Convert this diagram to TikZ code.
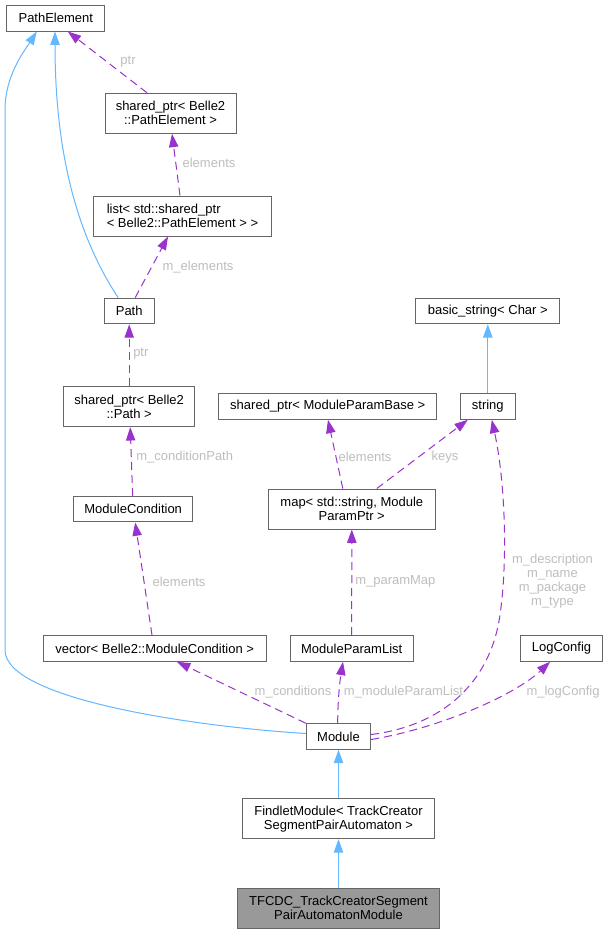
\documentclass[tikz,border=0pt]{standalone}
\usepackage{fontspec}
\setmainfont{Liberation Sans}
\usetikzlibrary{arrows.meta,calc}
\definecolor{boxborder}{HTML}{666666}
\definecolor{inhblue}{HTML}{63B8FF}
\definecolor{usepurple}{HTML}{9A32CD}
\definecolor{lblgray}{HTML}{BEBEBE}
\definecolor{hlfill}{HTML}{999999}
\begin{document}
\begin{tikzpicture}[x=0.75pt,y=-0.75pt,
  box/.style={draw=boxborder, fill=white, line width=0.75pt, inner sep=0pt, align=center,
    font=\fontsize{9.75}{10.5}\selectfont},
  sz/.style 2 args={minimum width=#1*0.75pt, minimum height=#2*0.75pt},
  inh/.style={draw=inhblue, line width=0.75pt, -{Triangle[length=10pt,width=7pt,fill=inhblue]}},
  use/.style={draw=usepurple, line width=0.75pt, dash pattern=on 6pt off 3.75pt,
    -{Triangle[length=10pt,width=7pt,fill=usepurple]}},
  lbl/.style={text=lblgray, inner sep=0pt, align=center, font=\fontsize{9.75}{10.5}\selectfont}
]
\fill[white] (0,0) rectangle (607,933);
\useasboundingbox (0,0) rectangle (607,933);

% nodes
\node[box, sz={98.3}{26}] (pe) at (55.8,18) {PathElement};
\node[box, sz={131}{40}] (sppe) at (170.5,113.3) {shared\_ptr< Belle2\\::PathElement >};
\node[box, sz={177.6}{40}, align=left] (lst) at (182.5,216) {list< std::shared\_ptr\\< Belle2::PathElement > >};
\node[box, sz={49.7}{25.7}] (path) at (129.2,311) {Path};
\node[box, sz={131}{40}] (spp) at (129.2,406.7) {shared\_ptr< Belle2\\::Path >};
\node[box, sz={217.7}{25.6}] (spmpb) at (327.8,406.5) {shared\_ptr< ModuleParamBase >};
\node[box, sz={55}{25.6}] (str) at (487.8,406.5) {string};
\node[box, sz={144.3}{25}] (bstr) at (487.8,311.2) {basic\_string< Char >};
\node[box, sz={119}{25.3}] (mc) at (133.2,509.3) {ModuleCondition};
\node[box, sz={167}{40}] (map) at (351.8,509) {map< std::string, Module\\ParamPtr >};
\node[box, sz={223.3}{25.6}] (vec) at (154.7,648.5) {vector< Belle2::ModuleCondition >};
\node[box, sz={123.2}{25.6}] (mpl) at (351.7,648.5) {ModuleParamList};
\node[box, sz={82.4}{25.6}] (log) at (561.5,648.5) {LogConfig};
\node[box, sz={64.4}{25.6}] (mod) at (338.5,736.5) {Module};
\node[box, sz={191.6}{40}] (fm) at (338.5,818.7) {FindletModule< TrackCreator\\SegmentPairAutomaton >};
\node[box, sz={202.4}{40}, fill=hlfill] (tf) at (338.5,908.3) {TFCDC\_TrackCreatorSegment\\PairAutomatonModule};

% inheritance edges
\draw[inh] ($(path.north)+(-11,0)$) .. controls (80,240) and (55,160) .. ($(pe.south)+(-0.8,0)$);
\draw[inh] ($(mod.west)+(0,-3)$) .. controls (200,727) and (5,700) .. (5,650)
   -- (5,110) .. controls (5,75) and (25,50) .. ($(pe.south)+(-19,0)$);
\draw[inh] (str.north) -- (bstr.south);
\draw[inh] (fm.north) -- (mod.south);
\draw[inh] (tf.north) -- (fm.south);

% usage edges
\draw[use] ($(sppe.north)+(-23.5,0)$) -- ($(pe.south)+(12,0)$);
\node[lbl] (l1) at (128,62) {ptr};
\draw[use] ($(lst.north)+(-2.5,0)$) -- ($(sppe.south)+(1.5,0)$);
\node[lbl] (l2) at (209,163) {elements};
\draw[use] ($(path.north)+(6,0)$) -- ($(lst.south)+(-14.5,0)$);
\node[lbl] (l3) at (198,267) {m\_elements};
\draw[use] (spp.north) -- (path.south);
\node[lbl, anchor=west] (l4) at (133,354) {ptr};
\draw[use] ($(mc.north)+(-0.5,0)$) -- ($(spp.south)+(1,0)$);
\node[lbl, anchor=west] (l5) at (136,456.7) {m\_conditionPath};
\draw[use] ($(vec.north)+(-2.7,0)$) -- ($(mc.south)+(2,0)$);
\node[lbl] (l6) at (179,581.7) {elements};
\draw[use] ($(map.north)+(-9,0)$) -- ($(spmpb.south)+(0.2,0)$);
\node[lbl] (l7) at (365,456.7) {elements};
\draw[use] ($(map.north)+(25,0)$) -- ($(str.south)+(-20,0)$);
\node[lbl] (l8) at (445,456.7) {keys};
\draw[use] (mpl.north) -- (map.south);
\node[lbl, anchor=west] (l9) at (355,581.7) {m\_paramMap};
\draw[use] (mod.north west) -- ($(vec.south)+(22.3,0)$);
\node[lbl] (l10) at (293,691.7) {m\_conditions};
\draw[use] ($(mod.north)+(-0.8,0)$) .. controls (337.7,700) and (340,680) .. ($(mpl.south)+(-8.7,0)$);
\node[lbl] (l11) at (403.5,691.7) {m\_moduleParamList};
\draw[use] ($(mod.east)+(0,-2)$) .. controls (440,726) and (490,685) .. (500,615)
   .. controls (508,560) and (505,480) .. ($(str.south)+(4,0)$);
\node[lbl] (l12) at (552.5,581.5) {m\_description\\m\_name\\m\_package\\m\_type};
\draw[use] ($(mod.east)+(0,3)$) .. controls (440,728) and (515,695) .. ($(log.south)+(-11.5,0)$);
\node[lbl] (l13) at (563,691.7) {m\_logConfig};
\end{tikzpicture}
\end{document}
